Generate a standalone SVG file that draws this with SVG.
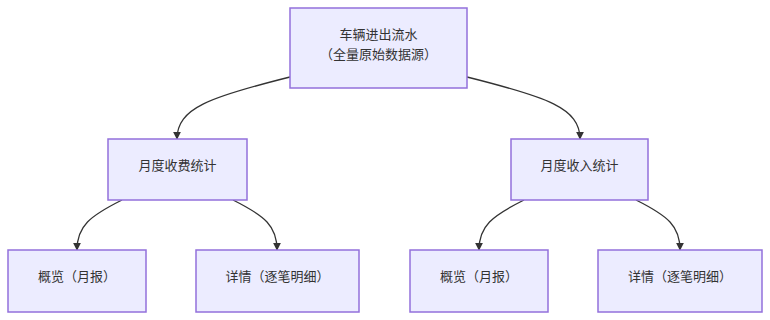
<svg xmlns="http://www.w3.org/2000/svg" width="770" height="320" viewBox="0 0 770 320">
<style>
.node rect{fill:#ECECFF;stroke:#9370DB;stroke-width:1.5}
.node text{font-family:"Noto Sans CJK SC","Liberation Sans",sans-serif;font-size:13px;fill:#333;text-anchor:middle;dominant-baseline:central}
.edges path{fill:none;stroke:#333;stroke-width:1.3;marker-end:url(#arr)}
</style>
<defs>
<marker id="arr" viewBox="0 0 10 10" refX="9" refY="5" markerWidth="8" markerHeight="8" markerUnits="userSpaceOnUse" orient="auto">
<path d="M0,0 L10,5 L0,10 z" fill="#333"/>
</marker>
</defs>
<rect width="770" height="320" fill="#fff"/>
<g class="edges">
<path d="M290,77 C210,97 177,108 177,139"/>
<path d="M467,77 C547,97 580,108 580,139"/>
<path d="M122,200 C90,216 77,226 77,250"/>
<path d="M233,200 C265,216 277,226 277,250"/>
<path d="M524,200 C492,216 479,226 479,250"/>
<path d="M636,200 C668,216 680,226 680,250"/>
</g>
<g id="n-top" class="node"><rect x="290" y="8" width="177" height="80"/><text x="378.5" y="33">车辆进出流水</text><text x="378.5" y="53">（全量原始数据源）</text></g>
<g id="n-fee" class="node"><rect x="108" y="139" width="139" height="61"/><text x="177.5" y="164">月度收费统计</text></g>
<g id="n-inc" class="node"><rect x="511" y="139" width="137" height="61"/><text x="579.5" y="164">月度收入统计</text></g>
<g id="n-fee-sum" class="node"><rect x="8" y="250" width="138" height="62"/><text x="77" y="275">概览（月报）</text></g>
<g id="n-fee-det" class="node"><rect x="196" y="250" width="163" height="62"/><text x="277.5" y="275">详情（逐笔明细）</text></g>
<g id="n-inc-sum" class="node"><rect x="410" y="250" width="138" height="62"/><text x="479" y="275">概览（月报）</text></g>
<g id="n-inc-det" class="node"><rect x="598" y="250" width="164" height="62"/><text x="680" y="275">详情（逐笔明细）</text></g>
</svg>
